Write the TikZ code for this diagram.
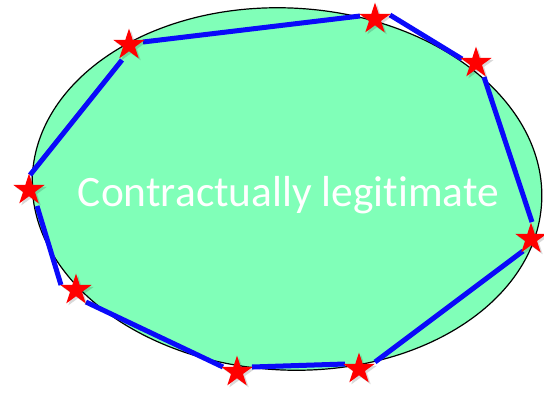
\documentclass[tikz,border=0pt]{standalone}
\usepackage{fontspec}
\setmainfont{Carlito}[Ligatures=NoCommon]
\usetikzlibrary{shapes.geometric}
\definecolor{mint}{RGB}{128,255,184}
\definecolor{edgeblue}{RGB}{10,10,250}
\begin{document}
\begin{tikzpicture}[x=1pt,y=-1pt,
  region/.style={draw=black, line width=1.2pt, fill=mint},
  boundary/.style={draw=edgeblue, line width=5pt},
  starmark/.style={star, star points=5, star point ratio=2.618,
    minimum size=33pt, inner sep=0pt, fill=red, draw=none},
  starshadow/.style={starmark, fill=black, opacity=0.15},
  titletext/.style={text=white, inner sep=0pt,
    font=\fontsize{43.4}{52}\selectfont}]
\useasboundingbox (0,0) rectangle (544,392);

% the legitimate region
\draw[region, rotate around={-3:(287,189)}] (287,189) ellipse [x radius=255, y radius=181];

% polygon approximating the region
\draw[boundary] (143,42) -- (360,16);
\draw[boundary] (390,15) -- (462,59);
\draw[boundary] (484,77) -- (532,222);
\draw[boundary] (523,251) -- (375,362);
\draw[boundary] (345,364) -- (252,367);
\draw[boundary] (223,367) -- (86,302);
\draw[boundary] (61,285) -- (37,206);
\draw[boundary] (30,175) -- (122,60);

% soft shadows under the vertex markers
\foreach \p in {(129,45),(375,19),(476,63),(531,239),(359,369),(237,372),(76,290),(29,190)}
  \node[starshadow, xshift=2pt, yshift=-2pt] at \p {};

% vertex markers
\node[starmark] (v1) at (129,45) {};
\node[starmark] (v2) at (375,19) {};
\node[starmark] (v3) at (476,63) {};
\node[starmark] (v4) at (531,239) {};
\node[starmark] (v5) at (359,369) {};
\node[starmark] (v6) at (237,372) {};
\node[starmark] (v7) at (76,290) {};
\node[starmark] (v8) at (29,190) {};

\node[titletext, anchor=base] (caption) at (288.5,206) {Contractually legitimate};
\end{tikzpicture}
\end{document}
